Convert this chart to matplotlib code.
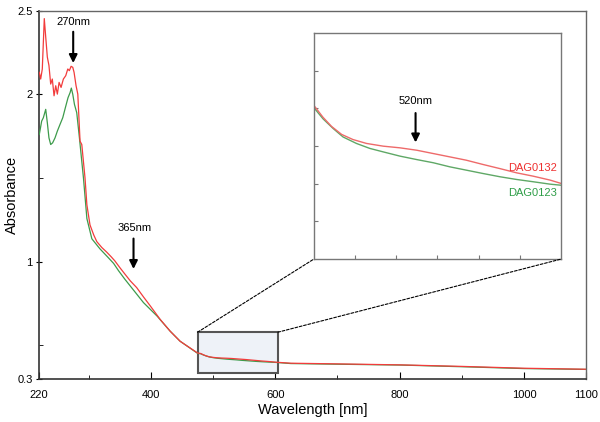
import matplotlib
matplotlib.use("Agg")
import matplotlib.pyplot as plt
from matplotlib.patches import Rectangle, ConnectionPatch

# ---- data ----
WL_RED = [
    220.5, 222.7, 225.3, 228.5, 230.8, 233.4, 236, 238.8, 241.4, 244.2,
    246.9, 249.5, 252.3, 255.5, 259.2, 263, 266.3, 268.8, 271.6, 274.3,
    276.4, 279.6, 282.4, 286, 288.8, 294, 297, 302, 308, 313, 321, 329,
    336, 342, 350, 358, 367, 377, 388, 399, 415, 431, 447, 463, 475,
    480, 484.5, 488.6, 493.5, 499, 505.6, 513.7, 521.8, 530, 538, 546,
    554, 562, 570.4, 578.5, 586.5, 594.7, 600,
    625, 700, 802, 900, 1000, 1100,
]
ABS_RED = [
    2.131, 2.091, 2.151, 2.452, 2.342, 2.222, 2.172, 2.061, 2.091, 1.991,
    2.051, 2.001, 2.071, 2.041, 2.091, 2.111, 2.151, 2.141, 2.167, 2.161,
    2.131, 2.051, 2.001, 1.72, 1.70, 1.50, 1.34, 1.22, 1.16, 1.12, 1.085,
    1.057, 1.03, 1.005, 0.965, 0.927, 0.885, 0.846, 0.79, 0.736, 0.655,
    0.585, 0.525, 0.485, 0.455,
    0.452, 0.444, 0.438, 0.4327, 0.4293, 0.4267, 0.4249, 0.4238, 0.4222,
    0.420, 0.4178, 0.4156, 0.4128, 0.410, 0.4072, 0.405, 0.4024, 0.4002,
    0.394, 0.390, 0.384, 0.375, 0.364, 0.358,
]

WL_GREEN = [
    220.5, 224.3, 227, 230.8, 233.4, 236, 238.8, 241.9, 245.8, 249.5,
    253.8, 258.2, 262.4, 266.7, 270, 272, 274.3, 277, 280.7, 285, 291.5,
    297, 305, 318, 330, 340, 348, 358, 370, 388, 410, 431, 447, 463, 475,
    480, 484.5, 489.4, 494.2, 500.7, 507.2, 513.7, 521.8, 530, 538, 546,
    554, 562, 570.4, 578.5, 586.5, 594.7, 600,
    625, 700, 802, 900, 1000, 1100,
]
ABS_GREEN = [
    1.76, 1.84, 1.86, 1.91, 1.83, 1.74, 1.70, 1.71, 1.74, 1.78,
    1.82, 1.86, 1.92, 1.98, 2.01, 2.037, 2.0, 1.94, 1.89, 1.74, 1.50,
    1.258, 1.137, 1.077, 1.03, 0.99, 0.946, 0.896, 0.84, 0.756, 0.675,
    0.585, 0.525, 0.484, 0.453,
    0.4505, 0.443, 0.4366, 0.431, 0.4267, 0.4234, 0.4211, 0.4183, 0.416,
    0.4139, 0.4112, 0.409, 0.4068, 0.4046, 0.4028, 0.4013, 0.3997, 0.399,
    0.392, 0.388, 0.383, 0.373, 0.362, 0.357,
]

SERIES_NAMES = ["DAG0132", "DAG0123"]

XTICKS = [220, 400, 600, 800, 1000, 1100]
YTICKS = [0.3, 1, 2, 2.5]
YTICK_LABELS = ["0.3", "1", "2", "2.5"]

# zoom window (main axes) and inset view
ZOOM_BOX = (475, 0.338, 129, 0.241)
INSET_XLIM = (480, 600)
INSET_YLIM = (0.35, 0.50)

RED = "#f23c3c"
GREEN = "#3d9b4b"
RED_LIGHT = "#ee6a6a"
GREEN_LIGHT = "#5fa866"

plt.rcParams.update({
    "font.family": ["Liberation Sans", "DejaVu Sans"],
    "font.size": 8,
})

fig = plt.figure(figsize=(6.0, 4.22), dpi=100)
ax = fig.add_axes([0.065, 0.102, 0.912, 0.873])

ax.plot(WL_GREEN, ABS_GREEN, color=GREEN, lw=0.9, zorder=3)
ax.plot(WL_RED, ABS_RED, color=RED, lw=0.9, zorder=4)

ax.set_xlim(220, 1100)
ax.set_ylim(0.3, 2.5)
ax.set_xticks(XTICKS)
ax.set_xticks([300, 500, 700, 900], minor=True)
ax.set_yticks(YTICKS)
ax.set_yticklabels(YTICK_LABELS)
ax.set_yticks([0.5, 1.5], minor=True)
ax.tick_params(axis="x", which="major", direction="in", length=5, pad=8)
ax.tick_params(axis="x", which="minor", direction="in", length=3)
ax.tick_params(axis="y", which="major", direction="inout", length=5, pad=2)
ax.tick_params(axis="y", which="minor", direction="in", length=3)
for side in ("left", "bottom"):
    ax.spines[side].set_color("#333333")
    ax.spines[side].set_linewidth(1.2)
for side in ("top", "right"):
    ax.spines[side].set_color("#666666")
    ax.spines[side].set_linewidth(1.0)

ax.set_xlabel("Wavelength [nm]", fontsize=10.5)
ax.set_ylabel("Absorbance", fontsize=10.5)
ax.xaxis.set_label_coords(0.5, -0.064)
ax.yaxis.set_label_coords(-0.037, 0.5)

# arrows on the main spectrum
ax.annotate("", xy=(275, 2.17), xytext=(275, 2.39),
            arrowprops=dict(arrowstyle="-|>", color="black", lw=1.5,
                            mutation_scale=12))
ax.text(275, 2.43, "270nm", ha="center", va="center", fontsize=8)
ax.annotate("", xy=(372, 0.94), xytext=(372, 1.155),
            arrowprops=dict(arrowstyle="-|>", color="black", lw=1.5,
                            mutation_scale=12))
ax.text(374, 1.20, "365nm", ha="center", va="center", fontsize=8)

# zoom rectangle
ax.add_patch(Rectangle(ZOOM_BOX[:2], ZOOM_BOX[2], ZOOM_BOX[3],
                       facecolor="#eef2f8", edgecolor="#555555", lw=1.5,
                       zorder=2))

# inset
axin = fig.add_axes([0.523, 0.386, 0.412, 0.536])
axin.plot(WL_GREEN, ABS_GREEN, color=GREEN_LIGHT, lw=1.0)
axin.plot(WL_RED, ABS_RED, color=RED_LIGHT, lw=1.0)
axin.set_xlim(*INSET_XLIM)
axin.set_ylim(*INSET_YLIM)
axin.set_xticks([500, 520, 540, 560, 580])
axin.set_yticks([0.375, 0.40, 0.425, 0.45, 0.475])
axin.tick_params(direction="in", length=3, labelbottom=False,
                 labelleft=False, color="#777777")
for side in axin.spines.values():
    side.set_color("#777777")
    side.set_linewidth(1.0)

axin.annotate("", xy=(529.4, 0.4255), xytext=(529.4, 0.4487),
              arrowprops=dict(arrowstyle="-|>", color="black", lw=1.5,
                              mutation_scale=12))
axin.text(529.4, 0.4547, "520nm", ha="center", va="center", fontsize=8)
axin.text(597.9, 0.4105, SERIES_NAMES[0], ha="right", va="center",
          fontsize=8, color="#ee3030")
axin.text(597.9, 0.394, SERIES_NAMES[1], ha="right", va="center",
          fontsize=8, color="#2f9e48")

# dashed connectors
x0, y0, w, h = ZOOM_BOX
for (xa, xb) in ((x0, 0), (x0 + w, 1)):
    con = ConnectionPatch(xyA=(xa, y0 + h), coordsA=ax.transData,
                          xyB=(xb, 0), coordsB=axin.transAxes,
                          linestyle=(0, (2.5, 1.5)), color="black", lw=0.8)
    fig.add_artist(con)

fig.savefig("out.png", dpi=100, facecolor="white")
